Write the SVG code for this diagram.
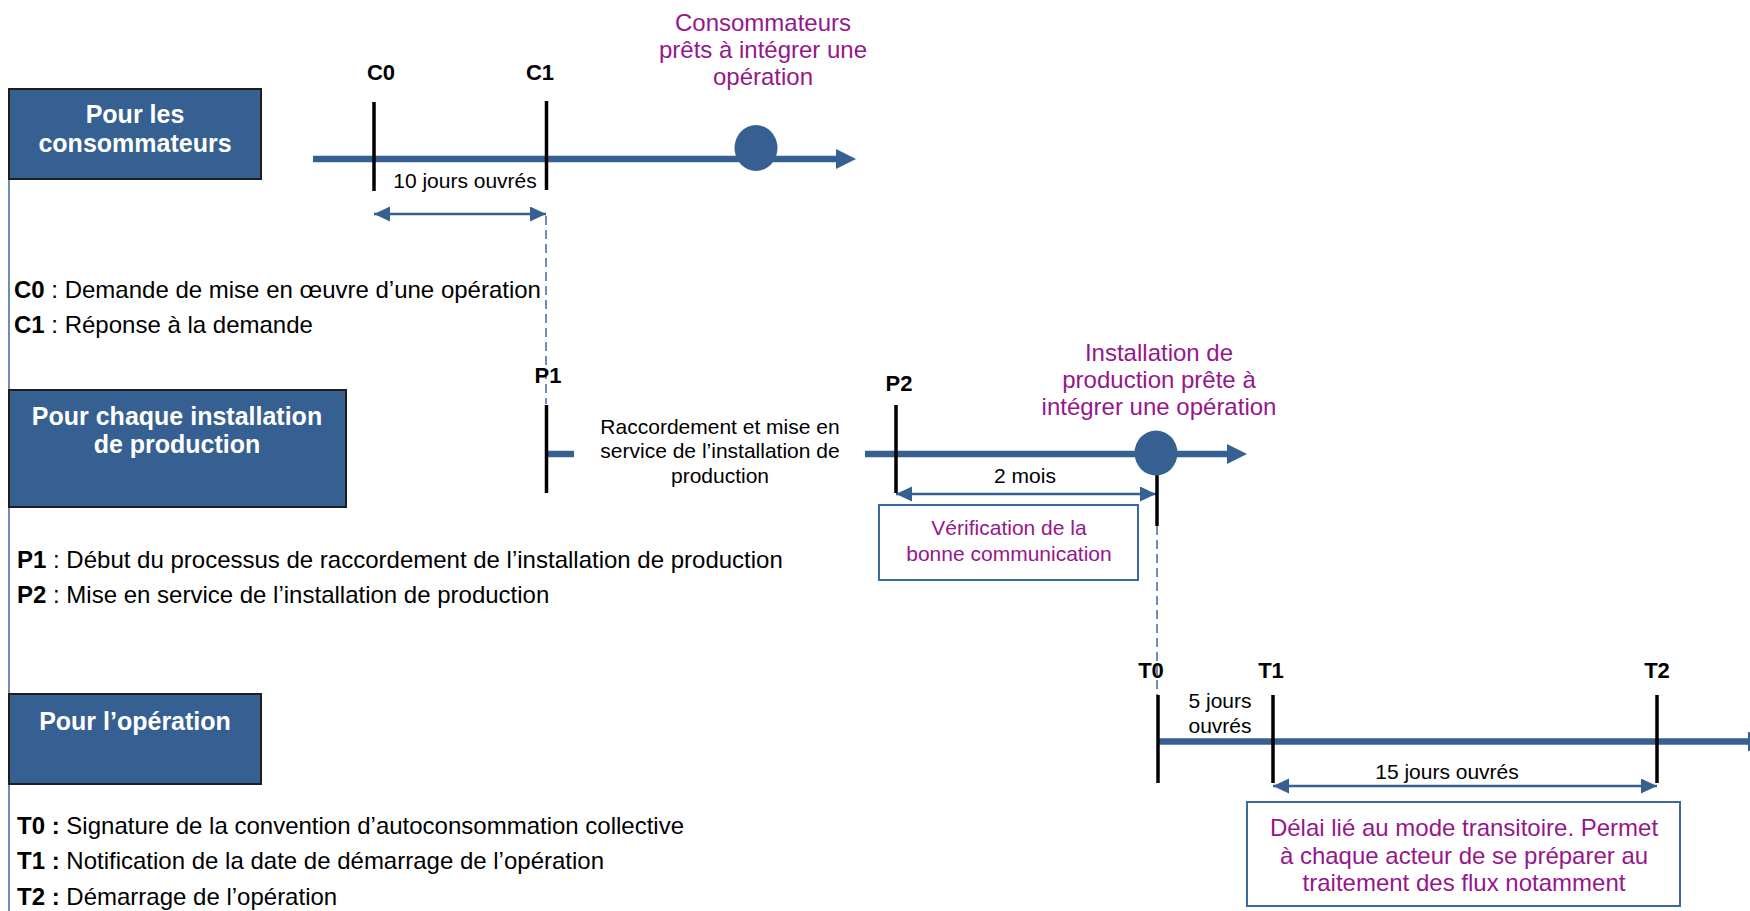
<svg xmlns="http://www.w3.org/2000/svg" width="1750" height="911" viewBox="0 0 1750 911">
<style>
  text { font-family: "Liberation Sans", Arial, sans-serif; }
  .box { fill: #376092; stroke: #1e1e1e; stroke-width: 2; }
  .boxtxt { fill: #ffffff; font-weight: bold; font-size: 25px; text-anchor: middle; }
  .tl { stroke: #376092; stroke-width: 6.5; fill: none; }
  .tick { stroke: #000000; stroke-width: 3.5; }
  .ticklbl { font-weight: bold; font-size: 22px; text-anchor: middle; fill: #000; }
  .dim { stroke: #376092; stroke-width: 2.5; fill: none; }
  .dash { stroke: #4a70a8; stroke-width: 1.6; stroke-dasharray: 9 5; fill: none; }
  .small { font-size: 21px; text-anchor: middle; fill: #000; }
  .purple { font-size: 24px; text-anchor: middle; fill: #96168c; }
  .purplesm { font-size: 21px; text-anchor: middle; fill: #96168c; }
  .legend { font-size: 24px; fill: #000; }
  .note { fill: #ffffff; stroke: #3d67a3; stroke-width: 2; }
  .dot { fill: #376092; }
</style>
<defs>
  <marker id="bigArrow" markerUnits="userSpaceOnUse" markerWidth="20" markerHeight="20" refX="0" refY="10" orient="auto">
    <path d="M0,0 L20,10 L0,20 z" fill="#376092"/>
  </marker>
  <marker id="dimArrow" markerUnits="userSpaceOnUse" markerWidth="16" markerHeight="16" refX="16" refY="7.5" orient="auto-start-reverse">
    <path d="M0,0 L16,7.5 L0,15 z" fill="#376092"/>
  </marker>
</defs>
<rect x="0" y="0" width="1750" height="911" fill="#ffffff"/>

<line x1="9" y1="89" x2="9" y2="911" stroke="#4a70a8" stroke-width="1.6"/>

<g id="box-consommateurs">
  <rect class="box" x="9" y="89" width="252" height="90"/>
  <text class="boxtxt" x="135" y="123">Pour les</text>
  <text class="boxtxt" x="135" y="152">consommateurs</text>
</g>
<g id="box-installation">
  <rect class="box" x="9" y="390" width="337" height="117"/>
  <text class="boxtxt" x="177" y="425">Pour chaque installation</text>
  <text class="boxtxt" x="177" y="453">de production</text>
</g>
<g id="box-operation">
  <rect class="box" x="9" y="694" width="252" height="90"/>
  <text class="boxtxt" x="135" y="730">Pour l’opération</text>
</g>

<g id="connectors">
  <line class="tl" x1="313" y1="159" x2="836" y2="159" marker-end="url(#bigArrow)"/>
  <line class="tl" x1="546" y1="454" x2="574" y2="454"/>
  <line class="tl" x1="865" y1="454" x2="1227" y2="454" marker-end="url(#bigArrow)"/>
  <line class="tl" x1="1158" y1="741.5" x2="1748" y2="741.5" marker-end="url(#bigArrow)"/>
  <line class="dim" x1="374" y1="214" x2="546" y2="214" marker-start="url(#dimArrow)" marker-end="url(#dimArrow)"/>
  <line class="dim" x1="896" y1="494" x2="1156" y2="494" marker-start="url(#dimArrow)" marker-end="url(#dimArrow)"/>
  <line class="dim" x1="1273" y1="786" x2="1657" y2="786" marker-start="url(#dimArrow)" marker-end="url(#dimArrow)"/>
  <line class="dash" x1="546" y1="216" x2="546" y2="404"/>
  <line class="dash" x1="1157" y1="526" x2="1157" y2="695"/>
</g>

<g id="milestone-consommateurs">
  <ellipse class="dot" cx="756" cy="148" rx="21.5" ry="23"/>
  <text class="purple" x="763" y="31">Consommateurs</text>
  <text class="purple" x="763" y="58">prêts à intégrer une</text>
  <text class="purple" x="763" y="85">opération</text>
</g>
<g id="tick-C0">
  <line class="tick" x1="374" y1="102" x2="374" y2="191"/>
  <text class="ticklbl" x="381" y="80">C0</text>
</g>
<g id="tick-C1">
  <line class="tick" x1="546.5" y1="101" x2="546.5" y2="190"/>
  <text class="ticklbl" x="540" y="80">C1</text>
</g>
<g id="label-10jours">
  <text class="small" x="465" y="188">10 jours ouvrés</text>
</g>
<g id="legend-C">
  <text class="legend" x="14" y="298"><tspan font-weight="bold">C0</tspan> : Demande de mise en œuvre d’une opération</text>
  <text class="legend" x="14" y="333"><tspan font-weight="bold">C1</tspan> : Réponse à la demande</text>
</g>

<g id="tick-P1">
  <line class="tick" x1="546.5" y1="405" x2="546.5" y2="493"/>
  <text class="ticklbl" x="548" y="383">P1</text>
</g>
<g id="label-raccordement">
  <text class="small" x="720" y="434">Raccordement et mise en</text>
  <text class="small" x="720" y="458">service de l’installation de</text>
  <text class="small" x="720" y="483">production</text>
</g>
<g id="tick-P2">
  <line class="tick" x1="896" y1="405" x2="896" y2="493"/>
  <text class="ticklbl" x="899" y="391">P2</text>
</g>
<g id="milestone-installation">
  <line class="tick" x1="1157" y1="470" x2="1157" y2="526"/>
  <ellipse class="dot" cx="1156" cy="453" rx="21.5" ry="22.5"/>
  <text class="purple" x="1159" y="361">Installation de</text>
  <text class="purple" x="1159" y="388">production prête à</text>
  <text class="purple" x="1159" y="415">intégrer une opération</text>
</g>
<g id="label-2mois">
  <text class="small" x="1025" y="483">2 mois</text>
</g>
<g id="note-verification">
  <rect class="note" x="879" y="505" width="259" height="75"/>
  <text class="purplesm" x="1009" y="535">Vérification de la</text>
  <text class="purplesm" x="1009" y="561">bonne communication</text>
</g>
<g id="legend-P">
  <text class="legend" x="17" y="568"><tspan font-weight="bold">P1</tspan> : Début du processus de raccordement de l’installation de production</text>
  <text class="legend" x="17" y="603"><tspan font-weight="bold">P2</tspan> : Mise en service de l’installation de production</text>
</g>

<g id="tick-T0">
  <line class="tick" x1="1158" y1="695" x2="1158" y2="783"/>
  <text class="ticklbl" x="1151" y="678">T0</text>
</g>
<g id="tick-T1">
  <line class="tick" x1="1273" y1="695" x2="1273" y2="783"/>
  <text class="ticklbl" x="1271" y="678">T1</text>
</g>
<g id="tick-T2">
  <line class="tick" x1="1657" y1="695" x2="1657" y2="783"/>
  <text class="ticklbl" x="1657" y="678">T2</text>
</g>
<g id="label-5jours">
  <text class="small" x="1220" y="708">5 jours</text>
  <text class="small" x="1220" y="733">ouvrés</text>
</g>
<g id="label-15jours">
  <text class="small" x="1447" y="779">15 jours ouvrés</text>
</g>
<g id="note-delai">
  <rect class="note" x="1247" y="802" width="433" height="104"/>
  <text class="purple" x="1464" y="836">Délai lié au mode transitoire. Permet</text>
  <text class="purple" x="1464" y="864">à chaque acteur de se préparer au</text>
  <text class="purple" x="1464" y="891">traitement des flux notamment</text>
</g>
<g id="legend-T">
  <text class="legend" x="17" y="834"><tspan font-weight="bold">T0 :</tspan> Signature de la convention d’autoconsommation collective</text>
  <text class="legend" x="17" y="869"><tspan font-weight="bold">T1 :</tspan> Notification de la date de démarrage de l’opération</text>
  <text class="legend" x="17" y="905"><tspan font-weight="bold">T2 :</tspan> Démarrage de l’opération</text>
</g>
</svg>
